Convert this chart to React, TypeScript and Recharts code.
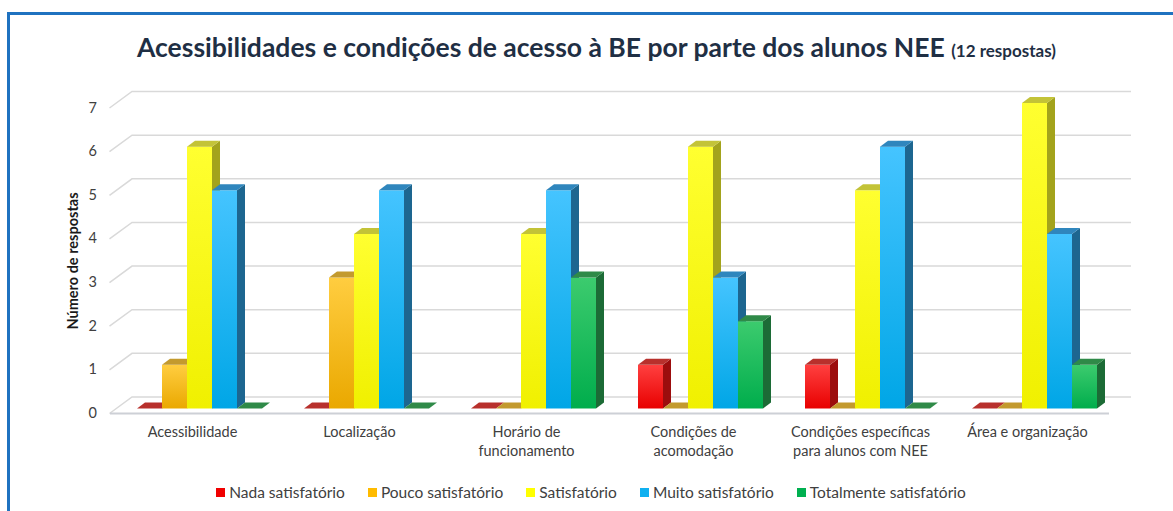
import { BarChart, Bar, XAxis, YAxis, CartesianGrid, Legend, ReferenceLine } from "recharts"

const categories = [
  "Acessibilidade",
  "Localização",
  "Horário de\nfuncionamento",
  "Condições de\nacomodação",
  "Condições específicas\npara alunos com NEE",
  "Área e organização",
]
const nadaSatisfatorio = [0, 0, 0, 1, 1, 0]
const poucoSatisfatorio = [1, 3, 0, 0, 0, 0]
const satisfatorio = [6, 4, 4, 6, 5, 7]
const muitoSatisfatorio = [5, 5, 5, 3, 6, 4]
const totalmenteSatisfatorio = [0, 0, 3, 2, 0, 1]
const yTicks = [0, 1, 2, 3, 4, 5, 6, 7]

const series = [
  { key: "nada", name: "Nada satisfatório", values: nadaSatisfatorio, icon: "#f00000", light: "#ff4040", dark: "#e80000", top: "#b8302c", side: "#9c0d0d" },
  { key: "pouco", name: "Pouco satisfatório", values: poucoSatisfatorio, icon: "#ffbb00", light: "#ffcd40", dark: "#eaa800", top: "#c39a2e", side: "#b07f08" },
  { key: "satisf", name: "Satisfatório", values: satisfatorio, icon: "#ffff00", light: "#ffff30", dark: "#f0f000", top: "#c3c337", side: "#a3a31c" },
  { key: "muito", name: "Muito satisfatório", values: muitoSatisfatorio, icon: "#10b0f0", light: "#45c4ff", dark: "#00a6e6", top: "#2f86bd", side: "#1d6690" },
  { key: "total", name: "Totalmente satisfatório", values: totalmenteSatisfatorio, icon: "#00b050", light: "#3ccb6e", dark: "#00ad4c", top: "#2f8a48", side: "#1c6b36" },
]

const data = categories.map((category, i) => {
  const row: any = { category }
  series.forEach((s) => (row[s.key] = s.values[i]))
  return row
})

// depth of the bar boxes
const DX = 8
const DY = 6

const barShape = (s: any) => (props: any) => {
  const { x, y, width, height } = props
  const top = `${x},${y} ${x + DX},${y - DY} ${x + width + DX},${y - DY} ${x + width},${y}`
  if (!height) return <polygon points={top} fill={s.top} />
  const side = `${x + width},${y} ${x + width + DX},${y - DY} ${x + width + DX},${y + height - DY} ${x + width},${y + height}`
  return (
    <g>
      <rect x={x} y={y} width={width} height={height} fill={`url(#grad-${s.key})`} />
      <polygon points={side} fill={s.side} />
      <polygon points={top} fill={s.top} />
    </g>
  )
}

const gridLine = (p: any) => {
  const fy = p.y1 + 5
  const by = p.y1 - 11.5
  return (
    <polyline
      key={`grid-${p.index}`}
      points={`${p.x1 - 6.5},${fy} ${p.x1 + 16},${by} ${p.x2 + 13},${by}`}
      fill="none"
      stroke="#d9d9d9"
      strokeWidth={1.5}
    />
  )
}

const font = "Lato, 'Open Sans', sans-serif"

const YTick = (p: any) => (
  <text x={p.x - 11} y={p.y + 4} textAnchor="end" dominantBaseline="central" fontSize={14.5} fill="#404040" fontFamily={font}>
    {p.payload.value}
  </text>
)

const XTick = (p: any) => {
  const lines = String(p.payload.value).split("\n")
  return (
    <text x={p.x - 7} y={p.y + 20} textAnchor="middle" fontSize={14.5} fill="#404040" fontFamily={font}>
      {lines.map((l, i) => (
        <tspan key={i} x={p.x - 7} dy={i === 0 ? 0 : 19}>
          {l}
        </tspan>
      ))}
    </text>
  )
}

const LegendContent = () => (
  <div style={{ display: "flex", justifyContent: "center", gap: 23, fontFamily: font, fontSize: 15.5, color: "#404040", marginLeft: 8 }}>
    {series.map((s) => (
      <div key={s.key} style={{ display: "flex", alignItems: "center" }}>
        <span style={{ width: 9, height: 9, background: s.icon, marginRight: 4, display: "inline-block" }} />
        {s.name}
      </div>
    ))}
  </div>
)

export default function App() {
  return (
    <div style={{ position: "relative", width: 1173, height: 511, overflow: "hidden", background: "#fff" }}>
      <style>{`body{margin:0}`}</style>
      <div style={{ position: "absolute", left: 7, top: 12, width: 1300, height: 600, border: "3px solid #1f72c0" }} />
      <div style={{ position: "absolute", left: 0, top: 0, width: 1173, textAlign: "center", fontFamily: font, color: "#1f2f44", fontWeight: 700 }}>
        <div style={{ position: "absolute", left: 0, width: 1193, top: 31 }}>
          <span style={{ fontSize: 26.5 }}>Acessibilidades e condições de acesso à BE por parte dos alunos NEE </span>
          <span style={{ fontSize: 17 }}>(12 respostas)</span>
        </div>
      </div>
      <div style={{ position: "absolute", left: 0, top: 0 }}>
        <BarChart
          width={1173}
          height={511}
          data={data}
          margin={{ top: 103, right: 55, bottom: 54.5, left: 56 }}
          barGap={0}
          barSize={25}
        >
          <defs>
            {series.map((s) => (
              <linearGradient key={s.key} id={`grad-${s.key}`} x1="0" y1="0" x2="0" y2="1">
                <stop offset="0%" stopColor={s.light} />
                <stop offset="100%" stopColor={s.dark} />
              </linearGradient>
            ))}
          </defs>
          <CartesianGrid vertical={false} horizontal={gridLine} />
          <ReferenceLine
            y={0}
            shape={(p: any) => (
              <line x1={p.x1 - 6} y1={p.y1 + 5} x2={p.x2 - 9} y2={p.y1 + 5} stroke="#cdd0d6" strokeWidth={2} />
            )}
          />
          <XAxis dataKey="category" axisLine={false} tickLine={false} height={30} interval={0} tick={<XTick />} />
          <YAxis
            domain={[0, 7]}
            ticks={yTicks}
            width={60}
            axisLine={false}
            tickLine={false}
            tick={<YTick />}
            label={() => (
              <text x={72} y={261} transform="rotate(-90 72 261)" textAnchor="middle" dominantBaseline="central" fontSize={14.5} fontWeight={700} fill="#1a1a1a" fontFamily={font}>
                Número de respostas
              </text>
            )}
          />
          {series.map((s) => (
            <Bar key={s.key} dataKey={s.key} name={s.name} fill={s.dark} shape={barShape(s)} isAnimationActive={false} />
          ))}
          <Legend verticalAlign="bottom" content={<LegendContent />} wrapperStyle={{ bottom: 10 }} />
        </BarChart>
      </div>
    </div>
  )
}
